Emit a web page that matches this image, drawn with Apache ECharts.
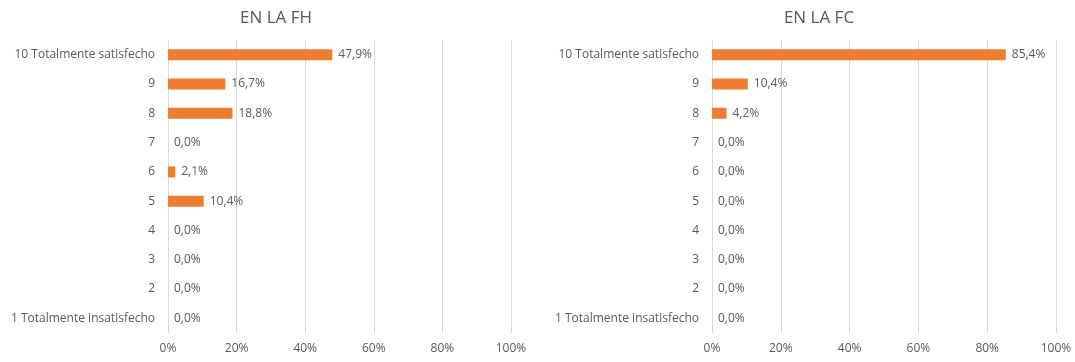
<!DOCTYPE html>
<html><head><meta charset="utf-8">
<script src="https://cdn.jsdelivr.net/npm/echarts@6/dist/echarts.min.js"></script>
<style>html,body{margin:0;padding:0;background:#fff}#c{width:1075px;height:362px}</style>
</head><body><div id="c"></div>
<script>
const categories = ['1 Totalmente insatisfecho','2','3','4','5','6','7','8','9','10 Totalmente satisfecho'];
const valuesFH = [0.0, 0.0, 0.0, 0.0, 10.4, 2.1, 0.0, 18.8, 16.7, 47.9];
const valuesFC = [0.0, 0.0, 0.0, 0.0, 0.0, 0.0, 0.0, 4.2, 10.4, 85.4];
const titles = ['EN LA FH', 'EN LA FC'];

const font = '"Open Sans", "Noto Sans", sans-serif';
const txt = '#595959';
const chart = echarts.init(document.getElementById('c'));
function xAxis(i){return {gridIndex:i,type:'value',min:0,max:100,interval:20,
  axisLine:{show:false},axisTick:{show:false},
  axisLabel:{formatter:v=>v+'%',color:txt,fontSize:12,fontFamily:font,margin:10},
  splitLine:{lineStyle:{color:'#D9D9D9',width:1}}};}
function yAxis(i){return {gridIndex:i,type:'category',data:categories,
  axisLine:{show:false},axisTick:{show:false},
  axisLabel:{color:txt,fontSize:12,fontFamily:font,margin:13}};}
function series(i,data){return {type:'bar',xAxisIndex:i,yAxisIndex:i,data:data,barWidth:11,
  itemStyle:{color:'#ED7D31'},
  label:{show:true,position:'right',distance:6,color:txt,fontSize:12,fontFamily:font,
    formatter:p=>p.value.toFixed(1).replace('.',',')+'%'}};}
chart.setOption({
  animation:false,
  title:[
    {text:titles[0],left:271,top:5,textAlign:'center',textStyle:{color:txt,fontSize:17,fontWeight:'normal',fontFamily:font}},
    {text:titles[1],left:814,top:5,textAlign:'center',textStyle:{color:txt,fontSize:17,fontWeight:'normal',fontFamily:font}}
  ],
  grid:[
    {left:168,width:343,top:40,height:293,containLabel:false},
    {left:712,width:344,top:40,height:293,containLabel:false}
  ],
  xAxis:[xAxis(0),xAxis(1)],
  yAxis:[yAxis(0),yAxis(1)],
  series:[series(0,valuesFH),series(1,valuesFC)]
});
</script></body></html>
